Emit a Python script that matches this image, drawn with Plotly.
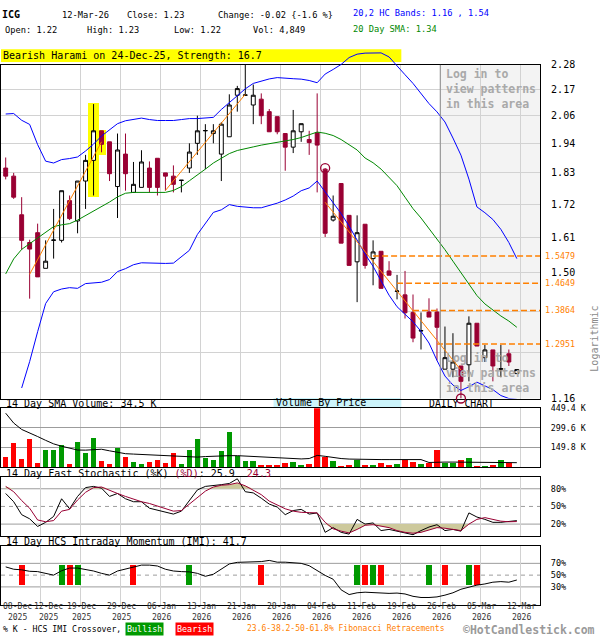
import numpy as np
import plotly.graph_objects as go

MONO = "DejaVu Sans Mono"
W, H = 600, 640

# ---------------------------------------------------------------- sessions
DATES = (
    ["2025-12-%02d" % d for d in (8, 9, 10, 11, 12, 15, 16, 17, 18, 19, 22, 23, 24, 26, 29, 30, 31)]
    + ["2026-01-%02d" % d for d in (2, 5, 6, 7, 8, 9, 12, 13, 14, 15, 16, 20, 21, 22, 23, 26, 27, 28, 29, 30)]
    + ["2026-02-%02d" % d for d in (2, 3, 4, 5, 6, 9, 10, 11, 12, 13, 17, 18, 19, 20, 23, 24, 25, 26, 27)]
    + ["2026-03-%02d" % d for d in (2, 3, 4, 5, 6, 9, 10, 11, 12)]
)

TICK_DATES = ["2025-12-08", "2025-12-12", "2025-12-19", "2025-12-29", "2026-01-06", "2026-01-13",
              "2026-01-21", "2026-01-28", "2026-02-04", "2026-02-11", "2026-02-19", "2026-02-26",
              "2026-03-05", "2026-03-12"]
TICK_DAY = ["08-Dec", "12-Dec", "19-Dec", "29-Dec", "06-Jan", "13-Jan", "21-Jan", "28-Jan",
            "04-Feb", "11-Feb", "19-Feb", "26-Feb", "05-Mar", "12-Mar"]
TICK_YEAR = ["2025", "2025", "2025", "2025", "2026", "2026", "2026", "2026",
             "2026", "2026", "2026", "2026", "2026", "2026"]

# ---------------------------------------------------------------- prices
OPEN = [1.850, 1.820, 1.683, 1.591, 1.623, 1.510, 1.598, 1.598, 1.732, 1.662,
        1.802, 1.879, 1.995, 1.951, 1.782, 1.903, 1.761, 1.779, 1.850, 1.887,
        1.832, 1.820, 1.804, 1.850, 1.945, 1.995, 1.984, 1.903, 1.971, 2.144,
        2.144, 2.102, 2.127, 2.074, 2.053, 1.984, 1.930, 1.991, 1.960, 1.987,
        1.846, 1.665, 1.793, 1.681, 1.530, 1.651, 1.540, 1.563, 1.502, 1.441,
        1.431, 1.381, 1.330, 1.382, 1.382, 1.231, 1.231, 1.239, 1.242, 1.351,
        1.260, 1.280, 1.231, 1.270, 1.220]
HIGH = [1.890, 1.832, 1.744, 1.600, 1.653, 1.598, 1.703, 1.767, 1.750, 1.802,
        1.900, 2.106, 1.995, 1.951, 1.984, 1.984, 1.873, 1.918, 1.875, 1.887,
        1.832, 1.860, 1.805, 1.945, 2.057, 2.022, 2.022, 2.030, 2.148, 2.185,
        2.280, 2.191, 2.152, 2.085, 2.053, 1.984, 2.081, 2.024, 1.995, 2.152,
        1.850, 1.750, 1.793, 1.681, 1.681, 1.651, 1.598, 1.563, 1.532, 1.490,
        1.502, 1.432, 1.381, 1.421, 1.392, 1.342, 1.324, 1.239, 1.370, 1.351,
        1.293, 1.280, 1.293, 1.281, 1.230]
LOW = [1.808, 1.738, 1.568, 1.420, 1.484, 1.510, 1.540, 1.591, 1.665, 1.621,
       1.703, 1.750, 1.910, 1.802, 1.672, 1.767, 1.761, 1.779, 1.761, 1.750,
       1.767, 1.761, 1.761, 1.832, 1.900, 1.846, 1.945, 1.802, 1.971, 2.074,
       2.144, 2.022, 2.022, 1.991, 1.981, 1.840, 1.907, 1.951, 1.900, 1.761,
       1.609, 1.660, 1.589, 1.519, 1.410, 1.509, 1.459, 1.450, 1.489, 1.418,
       1.364, 1.300, 1.281, 1.368, 1.253, 1.231, 1.211, 1.160, 1.201, 1.290,
       1.249, 1.201, 1.211, 1.239, 1.220]
CLOSE = [1.820, 1.744, 1.598, 1.570, 1.484, 1.532, 1.599, 1.767, 1.670, 1.802,
         1.879, 1.995, 1.941, 1.829, 1.919, 1.829, 1.790, 1.873, 1.779, 1.779,
         1.820, 1.790, 1.805, 1.911, 1.995, 1.996, 1.995, 2.022, 2.102, 2.173,
         2.145, 2.144, 2.057, 1.991, 1.991, 1.930, 1.995, 2.024, 1.948, 1.938,
         1.621, 1.678, 1.589, 1.519, 1.623, 1.519, 1.561, 1.450, 1.489, 1.442,
         1.380, 1.311, 1.331, 1.368, 1.340, 1.260, 1.249, 1.201, 1.351, 1.290,
         1.280, 1.239, 1.232, 1.249, 1.230]

UPPER_BAND = [2.064, 2.066, 2.038, 2.021, 1.940, 1.876, 1.869, 1.882, 1.886, 1.892,
              1.915, 1.942, 1.974, 2.000, 2.024, 2.036, 2.042, 2.047, 2.041, 2.037,
              2.037, 2.037, 2.041, 2.045, 2.045, 2.047, 2.050, 2.083, 2.112, 2.142,
              2.172, 2.196, 2.207, 2.216, 2.222, 2.221, 2.217, 2.215, 2.209, 2.199,
              2.238, 2.259, 2.282, 2.314, 2.330, 2.335, 2.336, 2.336, 2.317, 2.273,
              2.235, 2.196, 2.152, 2.108, 2.073, 2.031, 1.966, 1.899, 1.809, 1.710,
              1.690, 1.667, 1.634, 1.591, 1.540]
LOWER_BAND = [None, None, 1.185, 1.250, 1.328, 1.406, 1.440, 1.448, 1.452, 1.450,
              1.464, 1.465, 1.468, 1.476, 1.500, 1.509, 1.521, 1.527, 1.526, 1.525,
              1.525, 1.526, 1.546, 1.566, 1.617, 1.655, 1.691, 1.700, 1.718, 1.712,
              1.709, 1.707, 1.707, 1.715, 1.723, 1.734, 1.748, 1.767, 1.777, 1.802,
              1.764, 1.726, 1.687, 1.645, 1.597, 1.554, 1.516, 1.472, 1.430, 1.397,
              1.377, 1.355, 1.329, 1.298, 1.253, 1.214, 1.192, 1.179, 1.188, 1.199,
              1.190, 1.181, 1.167, 1.160, 1.158]
SMA20 = [1.493, 1.539, 1.569, 1.587, 1.608, 1.626, 1.643, 1.649, 1.653, 1.665,
         1.680, 1.695, 1.711, 1.727, 1.745, 1.758, 1.761, 1.761, 1.761, 1.761,
         1.761, 1.768, 1.782, 1.803, 1.826, 1.846, 1.869, 1.888, 1.905, 1.917,
         1.925, 1.931, 1.938, 1.943, 1.949, 1.956, 1.960, 1.968, 1.979, 1.990,
         1.985, 1.976, 1.960, 1.940, 1.919, 1.888, 1.870, 1.846, 1.817, 1.785,
         1.744, 1.704, 1.672, 1.637, 1.601, 1.568, 1.532, 1.496, 1.461, 1.429,
         1.405, 1.387, 1.371, 1.357, 1.340]

# trend segments: (start session, start price, end session, end price)
TRENDS = [(3, 1.492, 12, 1.951), (20, 1.768, 30, 2.148), (40, 1.726, 57, 1.229)]
# swing points used by the Fibonacci retracement
SWING_IDX = [40, 57]
SWING_PRICE = [1.850, 1.160]
FIB_LEVELS = [1.2951, 1.3864, 1.4649, 1.5479]
FIB_TEXT = ["1.2951", "1.3864", "1.4649", "1.5479"]
FIB_START = [54, 51, 49, 46]

PATTERN_SESSIONS = [11, 12]
PATTERN_WIDTH = [1.3, 1.05]
PATTERN_TOP = [2.11, 1.998]
PATTERN_BOTTOM = [1.745, 1.900]

PRICE_TICKS = [2.28, 2.168, 2.056, 1.944, 1.832, 1.72, 1.608, 1.496, 1.384, 1.272, 1.16]
PRICE_TICK_TEXT = ["2.28", "2.17", "2.06", "1.94", "1.83", "1.72", "1.61", "1.50", "", "", "1.16"]
# volume traded in each price band (top band first), as a share of the panel width
VBP_SHARE = [0.037, 0.154, 0.328, 0.370, 0.404, 0.076, 0.231, 0.037, 0.146, 0.080]

# ---------------------------------------------------------------- volume (thousands)
VOLUME = [75, 182, 62, 212, 32, 130, 130, 172, 25, 190,
          112, 225, 47, 25, 150, 75, 37, 25, 37, 55,
          32, 105, 25, 130, 212, 67, 55, 120, 270, 82,
          45, 45, 15, 15, 15, 30, 37, 15, 22, 449.4,
          75, 45, 7, 15, 55, 15, 15, 30, 15, 22,
          55, 37, 22, 30, 135, 32, 32, 52, 67, 7,
          7, 15, 52, 30, 4.849]
VOLUME_DIR = list("rrrrrgggrg" "ggrrgrggrr" "rrgggggggg" "ggrrrrggrr"
                  "rgrrgrgrrg" "rrgrrggrgr" "grgrg")
VOLUME_SMA = [412, 337, 288, 258, 234, 205, 178, 160, 144, 131,
              130, 136, 137, 125, 113, 103, 100, 97, 95, 91,
              86, 82, 79, 75, 77, 81, 84, 88, 88, 88,
              85, 82, 81, 78, 75, 73, 69, 63, 66, 90,
              83, 72, 66, 62, 60, 59, 58, 58, 58, 58,
              58, 58, 58, 36, 40, 39, 39, 38, 39, 38,
              37, 36, 37, 36, 34.5]
VOLUME_TICKS = [149.8, 299.6, 449.4]
VOLUME_TICK_TEXT = ["149.8 K", "299.6 K", "449.4 K"]

# ---------------------------------------------------------------- stochastic
STOCH_K = [72, 58, 36, 29, 16, 23, 33, 63, 46, 67,
           82, 84, 81, 67, 72, 63, 58, 58, 47, 44,
           40, 37, 42, 60, 78, 84, 85, 87, 89, 97,
           75, 73, 64, 54, 49, 36, 43, 45, 37, 39,
           6, 14, 6, 3, 28, 20, 22, 9, 11, 8,
           4, 2, 9, 15, 19, 9, 11, 8, 39, 32,
           28, 23, 23, 25, 25.9]
STOCH_D = [84, 75, 60, 47, 27, 24, 26, 42, 45, 61,
           74, 82, 83, 77, 72, 67, 62, 58, 55, 51,
           47, 42, 43, 54, 66, 76, 83, 86, 87, 90,
           85, 77, 70, 59, 53, 46, 42, 40, 39.5, 39,
           23, 12, 8, 5, 11, 18, 19, 17, 14, 9,
           6, 4.5, 6, 10, 14, 13, 11, 9, 20, 28,
           31, 28, 25, 24, 24.3]

# ---------------------------------------------------------------- intraday momentum
IMI = [64, 60, 59, 56.5, 56, 53, 50, 57.5, 62, 62,
       60, 57, 53, 50, 57, 60, 63, 67, 67, 65.5,
       60, 57, 56, 55.5, 53, 48, 51.5, 61, 69, 71.7,
       72, 72, 73, 75, 72, 72, 71.5, 70, 66, 58,
       49.5, 43, 25, 17, 20, 21, 20, 19, 19, 19.5,
       18, 14, 12, 12, 13, 16, 20, 26, 30, 33,
       35, 38, 39, 38, 41.7]
CROSS_IDX = [2, 7, 8, 9, 16, 23, 32, 44, 45, 46, 47, 53, 55, 58, 59]
CROSS_KIND = ["bear", "bull", "bear", "bull", "bear", "bull", "bear", "bull",
              "bear", "bull", "bear", "bull", "bear", "bull", "bear"]

# ---------------------------------------------------------------- colours
RED_CANDLE = "#990033"
UP_GREEN = "#009900"
DOWN_RED = "#ff0000"
ORANGE = "#ff8000"
VBP_BLUE = "#ccf4fb"
TAN = "#cdc99c"
GRID = "#d2d2d2"
DARK_GRID = "#9c9c9c"

n = len(DATES)
idx = np.arange(n)
SLOT = 0.41                        # grid lines sit just right of the session centre
XR = [-0.5875, 66.9125]
tick_pos = [DATES.index(d) + SLOT for d in TICK_DATES]
grid_pos = tick_pos[1:]

LOG_LO, LOG_HI = np.log10(1.16), np.log10(2.28)
PER_PX = (LOG_HI - LOG_LO) / 340.0


def py(v):
    return 1 - v / H


def px(v):
    return v / W


fig = go.Figure()

# ---------------------------------------------------------------- price panel
# pattern highlight (bar layer sits under the candles)
fig.add_trace(go.Bar(
    x=PATTERN_SESSIONS, base=PATTERN_BOTTOM,
    y=[t - b for t, b in zip(PATTERN_TOP, PATTERN_BOTTOM)], width=PATTERN_WIDTH,
    marker=dict(color="#ffff00", line=dict(width=0)), xaxis="x", yaxis="y",
    hoverinfo="skip", showlegend=False))

fig.add_trace(go.Candlestick(
    x=idx, open=OPEN, high=HIGH, low=LOW, close=CLOSE, xaxis="x", yaxis="y",
    increasing=dict(line=dict(color="black", width=1), fillcolor="white"),
    decreasing=dict(line=dict(color=RED_CANDLE, width=1), fillcolor=RED_CANDLE),
    whiskerwidth=0, hoverinfo="skip", showlegend=False))


def overlay_line(x, y, color, width=1.0, dash=None):
    fig.add_trace(go.Scatter(x=x, y=y, mode="lines", xaxis="x5", yaxis="y5",
                             line=dict(color=color, width=width, dash=dash),
                             hoverinfo="skip", showlegend=False))


overlay_line(idx, SMA20, "#008800")
overlay_line(idx, LOWER_BAND, "#0000ff")
overlay_line(idx, UPPER_BAND, "#0000ff")
for s0, p0, s1, p1 in TRENDS:
    overlay_line([s0, s1], [p0, p1], ORANGE)
for lvl, start in zip(FIB_LEVELS, FIB_START):
    overlay_line([start, XR[1]], [lvl, lvl], ORANGE, width=1.5, dash="6px,3px")

fig.add_trace(go.Scatter(
    x=SWING_IDX, y=SWING_PRICE, mode="markers", xaxis="x5", yaxis="y5", cliponaxis=False,
    marker=dict(symbol="circle-open", size=9, color=RED_CANDLE, line=dict(width=1.3)),
    hoverinfo="skip", showlegend=False))

# ---------------------------------------------------------------- volume panel
fig.add_trace(go.Bar(
    x=idx, y=VOLUME, width=0.7, xaxis="x2", yaxis="y2",
    marker=dict(color=[UP_GREEN if d == "g" else DOWN_RED for d in VOLUME_DIR], line=dict(width=0)),
    hoverinfo="skip", showlegend=False))
fig.add_trace(go.Scatter(x=idx, y=VOLUME_SMA, mode="lines", xaxis="x2", yaxis="y2",
                         line=dict(color="black", width=1), hoverinfo="skip", showlegend=False))

# ---------------------------------------------------------------- stochastic panel
for level, clipped in ((80, [max(d, 80) for d in STOCH_D]), (20, [min(d, 20) for d in STOCH_D])):
    fig.add_trace(go.Scatter(x=idx, y=[level] * n, mode="lines", line=dict(width=0),
                             xaxis="x3", yaxis="y3", hoverinfo="skip", showlegend=False))
    fig.add_trace(go.Scatter(x=idx, y=clipped, mode="lines", line=dict(width=0),
                             fill="tonexty", fillcolor=TAN,
                             xaxis="x3", yaxis="y3", hoverinfo="skip", showlegend=False))
fig.add_trace(go.Scatter(x=idx, y=STOCH_K, mode="lines", line=dict(color="black", width=1),
                         xaxis="x3", yaxis="y3", hoverinfo="skip", showlegend=False))
fig.add_trace(go.Scatter(x=idx, y=STOCH_D, mode="lines", line=dict(color=RED_CANDLE, width=1),
                         xaxis="x3", yaxis="y3", hoverinfo="skip", showlegend=False))

# ---------------------------------------------------------------- IMI panel
fig.add_trace(go.Bar(
    x=CROSS_IDX, y=[34] * len(CROSS_IDX), base=[33] * len(CROSS_IDX), width=0.75,
    xaxis="x4", yaxis="y4",
    marker=dict(color=[UP_GREEN if k == "bull" else DOWN_RED for k in CROSS_KIND], line=dict(width=0)),
    hoverinfo="skip", showlegend=False))
fig.add_trace(go.Scatter(x=idx, y=IMI, mode="lines", line=dict(color="black", width=1),
                         xaxis="x4", yaxis="y4", hoverinfo="skip", showlegend=False))

# ---------------------------------------------------------------- shapes
shapes = []
for k, share in enumerate(VBP_SHARE):
    shapes.append(dict(type="rect", xref="x domain", yref="y", x0=0, x1=share,
                       y0=np.log10(PRICE_TICKS[k + 1]), y1=np.log10(PRICE_TICKS[k]),
                       fillcolor=VBP_BLUE, line=dict(width=0), layer="below"))
login_x = DATES.index("2026-02-26") + SLOT
shapes.append(dict(type="rect", xref="x", yref="y domain", x0=login_x, x1=XR[1], y0=0, y1=1,
                   fillcolor="#f3f3f3", line=dict(width=0), layer="below"))
shapes.append(dict(type="line", xref="x", yref="y domain", x0=login_x, x1=login_x, y0=0, y1=1,
                   line=dict(color="#8c8c8c", width=1), layer="above"))
# pattern banner and volume-by-price caption box
shapes.append(dict(type="rect", xref="paper", yref="paper", x0=0, x1=px(401), y0=py(57), y1=py(44),
                   fillcolor="#ffff00", line=dict(width=0), layer="below"))
shapes.append(dict(type="rect", xref="paper", yref="paper", x0=px(273), x1=px(401), y0=py(409.5),
                   y1=py(399.5), fillcolor=VBP_BLUE, line=dict(width=0), layer="below"))
for ax, solid in (("3", (20, 80)), ("4", (30, 70))):
    for v in solid:
        shapes.append(dict(type="line", xref="x%s domain" % ax, yref="y" + ax, x0=0, x1=1, y0=v, y1=v,
                           line=dict(color=DARK_GRID, width=1), layer="below"))
    shapes.append(dict(type="line", xref="x%s domain" % ax, yref="y" + ax, x0=0, x1=1, y0=50, y1=50,
                       line=dict(color=DARK_GRID, width=1, dash="4px,4px"), layer="below"))

# ---------------------------------------------------------------- annotations
ann = []


def label(x, y, s, size=9.0, color="black", xanchor="left", bold=False, **kw):
    d = dict(x=px(x), y=py(y), xref="paper", yref="paper", text=("<b>%s</b>" % s) if bold else s,
             showarrow=False, xanchor=xanchor, yanchor="middle", borderpad=0,
             font=dict(family=MONO, size=size, color=color))
    d.update(kw)
    ann.append(d)


HS = 8.7
label(0, 9, "ICG", size=10, bold=True)
label(60, 9, "12-Mar-26", size=HS)
label(125, 9, "Close: 1.23", size=HS)
label(216, 9, "Change: -0.02 {-1.6 %}", size=HS)
label(352, 7, "20,2 HC Bands: 1.16 , 1.54", size=HS, color="#0000ff")
label(3, 24, "Open: 1.22", size=HS)
label(85, 24, "High: 1.23", size=HS)
label(172, 24, "Low: 1.22", size=HS)
label(251, 24, "Vol: 4,849", size=HS)
label(352, 23, "20 Day SMA: 1.34", size=HS, color="#008800")

label(1, 50.5, "Bearish Harami on 24-Dec-25, Strength: 16.7", size=10)

for y0 in (61, 351):
    ann.append(dict(x=login_x, y=py(y0), xref="x", yref="paper", xanchor="left", yanchor="top",
                    xshift=5, showarrow=False, align="left", borderpad=0,
                    text="<b>Log in to<br>view patterns<br>in this area</b>",
                    font=dict(family=MONO, size=11.5, color="#a9a9a9")))

for lvl, t in zip(FIB_LEVELS, FIB_TEXT):
    ann.append(dict(x=px(544), y=np.log10(lvl), xref="paper", yref="y", xanchor="left",
                    yanchor="middle", showarrow=False, text=t, borderpad=0,
                    font=dict(family=MONO, size=8.3, color=ORANGE)))

label(595, 339, "Logarithmic", size=10, color="#8a8a8a", xanchor="center", textangle=-90)

label(4, 405, "14 Day SMA Volume: 34.5 K", size=10)
label(274, 404.5, "Volume By Price", size=10)
label(461, 405, "DAILY CHART", size=9.8, xanchor="center")
label(4, 476, "14 Day Fast Stochastic (%K) <span style='color:" + RED_CANDLE + "'>(%D)</span>: 25.9"
      "\u00a0\u00a0<span style='color:" + RED_CANDLE + "'>24.3</span>", size=10)
label(4, 546, "14 Day HCS Intraday Momentum (IMI): 41.7", size=10)

# session date labels under the bottom panel
for i, (pos, day, year) in enumerate(zip(tick_pos, TICK_DAY, TICK_YEAR)):
    common = dict(y=py(617.5), yref="paper", yanchor="middle", showarrow=False, borderpad=0,
                  align="center", text="%s<br>%s" % (day, year),
                  font=dict(family=MONO, size=8.1, color="#333333"))
    if i == 0:
        ann.append(dict(common, x=px(1), xref="paper", xanchor="left"))
    else:
        ann.append(dict(common, x=pos, xref="x4", xanchor="center", xshift=8 if i == 1 else 1))

label(1, 634.5, "% K - HCS IMI Crossover,", size=8.2)
label(144, 634.5, "Bullish", size=8.4, color="white", xanchor="center", bgcolor=UP_GREEN, borderpad=1)
label(194, 634.5, "Bearish", size=8.4, color="white", xanchor="center", bgcolor=DOWN_RED, borderpad=1)
label(245, 634.5, "23.6-38.2-50-61.8% Fibonacci Retracements", size=8.0, color=ORANGE)
label(462, 636, "\u00a9HotCandlestick.com", size=11.5, color="#9a9a9a", bold=True)

# ---------------------------------------------------------------- axes
xcommon = dict(range=XR, domain=[0, px(540)], tickmode="array", tickvals=grid_pos,
               showticklabels=False, ticks="", showgrid=True, gridcolor=GRID, gridwidth=1,
               zeroline=False, showline=True, mirror=True, linecolor="black", linewidth=1,
               fixedrange=True)
ycommon = dict(side="right", ticks="", showline=True, mirror=True, linecolor="black",
               linewidth=1, zeroline=False, fixedrange=True, ticklabelstandoff=8)

fig.update_layout(
    width=W, height=H, autosize=False,
    margin=dict(l=0, r=0, t=0, b=0),
    paper_bgcolor="white", plot_bgcolor="rgba(0,0,0,0)",
    showlegend=False, dragmode=False, bargap=0, barmode="overlay",
    xaxis=dict(xcommon, anchor="y", rangeslider=dict(visible=False)),
    xaxis2=dict(xcommon, anchor="y2"),
    xaxis3=dict(xcommon, anchor="y3"),
    xaxis4=dict(xcommon, anchor="y4"),
    xaxis5=dict(range=XR, domain=[0, px(540)], anchor="y5", visible=False, fixedrange=True),
    yaxis=dict(ycommon, anchor="x", type="log", domain=[py(400), py(60)], range=[LOG_LO, LOG_HI],
               tickmode="array", tickvals=PRICE_TICKS, ticktext=PRICE_TICK_TEXT,
               showgrid=True, gridcolor=GRID, tickfont=dict(family=MONO, size=10, color="black")),
    yaxis5=dict(anchor="x5", type="log", domain=[py(400), py(40)],
                range=[LOG_LO, LOG_HI + 20 * PER_PX], visible=False, fixedrange=True),
    yaxis2=dict(ycommon, anchor="x2", domain=[py(470), py(410)], range=[0, 449.4],
                tickmode="array", tickvals=VOLUME_TICKS, ticktext=VOLUME_TICK_TEXT,
                showgrid=True, gridcolor=DARK_GRID, tickfont=dict(family=MONO, size=8.3, color="black")),
    yaxis3=dict(ycommon, anchor="x3", domain=[py(540), py(480)], range=[0, 100],
                tickmode="array", tickvals=[20, 50, 80], ticktext=["20%", "50%", "80%"],
                showgrid=False, tickfont=dict(family=MONO, size=8.5, color="black")),
    yaxis4=dict(ycommon, anchor="x4", domain=[py(610), py(550)], range=[0, 100],
                tickmode="array", tickvals=[30, 50, 70], ticktext=["30%", "50%", "70%"],
                showgrid=False, tickfont=dict(family=MONO, size=8.5, color="black")),
    shapes=shapes,
    annotations=ann,
)

fig.write_html("out.html", config=dict(displayModeBar=False, staticPlot=True))
